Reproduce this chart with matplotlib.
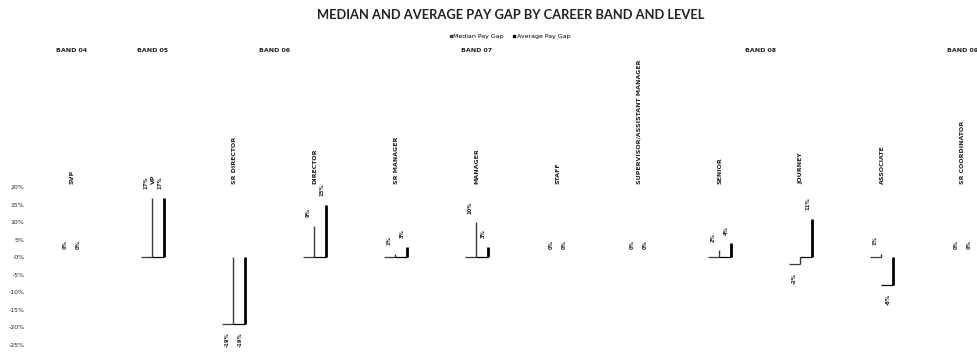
import numpy as np
import matplotlib.pyplot as plt
import matplotlib.transforms as mtransforms
from matplotlib.lines import Line2D

# data
levels = ["SVP", "VP", "SR DIRECTOR", "DIRECTOR", "SR MANAGER", "MANAGER", "STAFF",
          "SUPERVISOR/ASSISTANT MANAGER", "SENIOR", "JOURNEY", "ASSOCIATE", "SR COORDINATOR"]
bands = ["BAND 04", "BAND 05", "BAND 06", "BAND 07", "BAND 08", "BAND 09"]
band_of_level = [0, 1, 2, 2, 3, 3, 3, 4, 4, 4, 4, 5]
median_gap = [0, 17, -19, 9, 1, 10, 0, 0, 2, -2, 1, 0]
average_gap = [0, 17, -19, 15, 3, 3, 0, 0, 4, 11, -8, 0]

x = np.arange(len(levels))
med = np.array(median_gap) / 100
avg = np.array(average_gap) / 100

fig = plt.figure(figsize=(9.77, 3.53), dpi=100)
# plot area runs a bit past the right edge, like the clipped original
ax = fig.add_axes([31.5 / 977, 8 / 353, 972 / 977, 158 / 353])
ax.set_xlim(-0.5, len(levels) - 0.5)
ax.set_ylim(-0.25, 0.20)

def draw_series(vals, left, right, color, lw):
    nz = vals != 0
    # vertical edge of the column
    ax.vlines(x[nz] + right, 0, vals[nz], color=color, lw=lw)
    # floor of the column
    ax.hlines(np.minimum(vals[nz], 0), x[nz] + left, x[nz] + right, color=color, lw=0.9)

draw_series(med, -0.15, -0.015, "#3a3a3a", 1.0)
draw_series(avg, -0.015, 0.13, "black", 2.0)

# value labels
for xs, vals in [(x - 0.085, med), (x + 0.08, avg)]:
    for xi, v in zip(xs, vals):
        up = v >= 0
        ax.annotate("{:.0f}%".format(v * 100), (xi, v), xytext=(0, 6 if up else -6),
                    textcoords="offset points", rotation=90, ha="center",
                    va="bottom" if up else "top", fontsize=3.8, fontweight="bold",
                    color="#222222", annotation_clip=False)

# y ticks
ticks = np.arange(-0.25, 0.2001, 0.05)
ax.set_yticks(ticks)
ax.set_yticklabels(["{:.0f}%".format(t * 100) for t in ticks], fontsize=4.5, color="#222222")
ax.tick_params(axis="y", length=0, pad=5)
ax.set_xticks([])
for s in ax.spines.values():
    s.set_visible(False)

# level labels sitting above the plot area
trans = mtransforms.blended_transform_factory(ax.transData, ax.transAxes)
for xi, name in zip(x, levels):
    ax.text(xi, 1.02, name, transform=trans, rotation=90, ha="center", va="bottom",
            fontsize=4.5, fontweight="bold", color="#222222")

# band labels
ftrans = mtransforms.blended_transform_factory(ax.transData, fig.transFigure)
for b, name in enumerate(bands):
    idx = [i for i, bb in enumerate(band_of_level) if bb == b]
    ax.text(np.mean(x[idx]), 1 - 50 / 353, name, transform=ftrans, ha="center", va="center",
            fontsize=4.5, fontweight="bold", color="#222222")

fig.text(511 / 977, 1 - 15 / 353, "MEDIAN AND AVERAGE PAY GAP BY CAREER BAND AND LEVEL",
         ha="center", va="center", fontsize=9.3, fontweight="bold", family="Lato", color="#222222")

handles = [Line2D([], [], ls="", marker="s", ms=1.5, color="#3a3a3a"),
           Line2D([], [], ls="", marker="s", ms=1.5, color="black")]
fig.legend(handles, ["Median Pay Gap", "Average Pay Gap"], loc="center",
           bbox_to_anchor=(510 / 977, 1 - 36 / 353), ncol=2, frameon=False, fontsize=4.5,
           handlelength=0.4, handletextpad=0.2, columnspacing=1.5)

fig.savefig("out.png", dpi=100)
